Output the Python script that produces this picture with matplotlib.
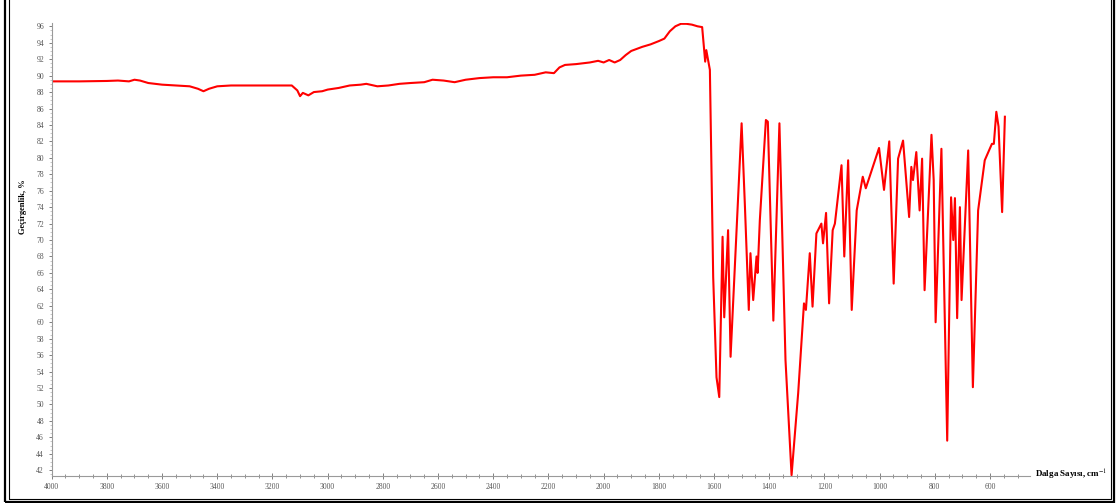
import matplotlib.pyplot as plt
from matplotlib.patches import Rectangle
from matplotlib.ticker import MultipleLocator

# FT-IR spectrum
wavenumber = [4000, 3900, 3800, 3760, 3720, 3700, 3680, 3650, 3600, 3550,
              3500, 3470, 3450, 3430, 3400, 3350, 3300, 3200, 3130, 3110,
              3100, 3090, 3070, 3050, 3020, 3000, 2960, 2920, 2880, 2860,
              2820, 2780, 2740, 2700, 2650, 2620, 2580, 2540, 2500, 2450,
              2400, 2350, 2300, 2250, 2210, 2180, 2160, 2140, 2100, 2050,
              2020, 2000, 1980, 1960, 1940, 1920, 1900, 1860, 1830, 1800,
              1780, 1760, 1740, 1720, 1700, 1680, 1660, 1643, 1632, 1628,
              1615, 1603, 1591, 1581, 1569, 1563, 1549, 1540, 1500, 1488,
              1474, 1468, 1458, 1446, 1442, 1434, 1412, 1405, 1385, 1363,
              1341, 1319, 1295, 1274, 1267, 1253, 1243, 1229, 1211, 1205,
              1194, 1183, 1170, 1162, 1138, 1128, 1114, 1101, 1083, 1061,
              1050, 1002, 984, 965, 949, 933, 915, 893, 885, 879,
              867, 855, 846, 837, 812, 804, 797, 776, 755, 741,
              733, 727, 719, 709, 703, 679, 662, 643, 619, 593,
              586, 577, 569, 556, 546]
transmittance = [89.3, 89.3, 89.35, 89.4, 89.3, 89.5, 89.4, 89.1, 88.9, 88.8,
                 88.7, 88.4, 88.1, 88.4, 88.7, 88.8, 88.8, 88.8, 88.8, 88.2,
                 87.5, 87.9, 87.6, 88.0, 88.1, 88.3, 88.5, 88.8, 88.9, 89.0,
                 88.7, 88.8, 89.0, 89.1, 89.2, 89.5, 89.4, 89.2, 89.5, 89.7,
                 89.8, 89.8, 90.0, 90.1, 90.4, 90.3, 91.0, 91.3, 91.4, 91.6,
                 91.8, 91.6, 91.9, 91.6, 91.9, 92.5, 93.0, 93.5, 93.8, 94.2,
                 94.5, 95.4, 96.0, 96.3, 96.3, 96.2, 96.0, 95.9, 91.7, 93.1,
                 90.7, 65.5, 53.3, 50.9, 70.4, 60.6, 71.2, 55.8, 84.2, 74.1,
                 61.5, 68.4, 62.7, 68.0, 66.0, 72.4, 84.6, 84.4, 60.2, 84.2,
                 55.4, 41.4, 51.4, 62.3, 61.5, 68.4, 61.9, 70.8, 72.0, 69.6,
                 73.3, 62.3, 71.2, 72.0, 79.1, 68.0, 79.7, 61.5, 73.6, 77.7,
                 76.3, 81.2, 76.1, 82.0, 64.7, 79.9, 82.1, 72.8, 78.9, 77.3,
                 80.7, 73.6, 79.9, 63.9, 82.8, 77.3, 60.0, 81.1, 45.6, 75.2,
                 70.0, 75.1, 60.5, 74.0, 62.7, 80.9, 52.1, 73.6, 79.7, 81.7,
                 81.7, 85.6, 83.8, 73.4, 85.0]

W, H = 1120, 503
fig = plt.figure(figsize=(W / 100, H / 100), dpi=100)
ax = fig.add_axes([51.7 / W, 1 - 476 / H, (1030 - 51.7) / W, (476 - 23) / H])

ax.plot(wavenumber, transmittance, color='#ff0000', lw=1.5)

ax.set_xlim(4000, 455)
ax.set_ylim(41.3, 96.4)
ax.set_xticks(range(4000, 599, -200))
ax.set_yticks(range(42, 97, 2))
ax.xaxis.set_minor_locator(MultipleLocator(50))
ax.yaxis.set_minor_locator(MultipleLocator(0.5))

for s in ['top', 'right']:
    ax.spines[s].set_visible(False)
for s in ['left', 'bottom']:
    ax.spines[s].set_color('#9a9a9a')
    ax.spines[s].set_linewidth(0.8)

ax.tick_params(axis='both', which='major', labelsize=5.5, labelcolor='#555555',
               color='#808080', width=0.7)
ax.tick_params(axis='x', which='major', direction='inout', length=4, pad=3)
ax.tick_params(axis='x', which='minor', direction='inout', length=2.5, color='#808080', width=0.6)
ax.tick_params(axis='y', which='major', direction='out', length=2.5, pad=3)
ax.tick_params(axis='y', which='minor', direction='out', length=1.2, color='#b0b0b0', width=0.5)
for lab in ax.get_xticklabels() + ax.get_yticklabels():
    lab.set_family('Liberation Serif')

plt.rcParams['mathtext.fontset'] = 'stix'
fig.text(23 / W, 1 - 207 / H, 'Geçirgenlik, %', rotation=90, ha='center', va='center',
         family='Liberation Serif', weight='bold', fontsize=6)
fig.text(1035 / W, 1 - 475 / H, r'Dalga Sayısı, cm$^{-1}$', ha='left', va='center',
         family='Liberation Serif', weight='bold', fontsize=6.5)

# double frame around the picture
fig.patches.append(Rectangle((5 / W, 1 / H), (1114 - 5) / W, 1.2, transform=fig.transFigure,
                             fill=False, edgecolor='black', lw=1.6))
fig.patches.append(Rectangle((8.5 / W, 4.5 / H), (1110.5 - 8.5) / W, 1.2, transform=fig.transFigure,
                             fill=False, edgecolor='black', lw=0.8))

fig.savefig('out.png', dpi=100)
